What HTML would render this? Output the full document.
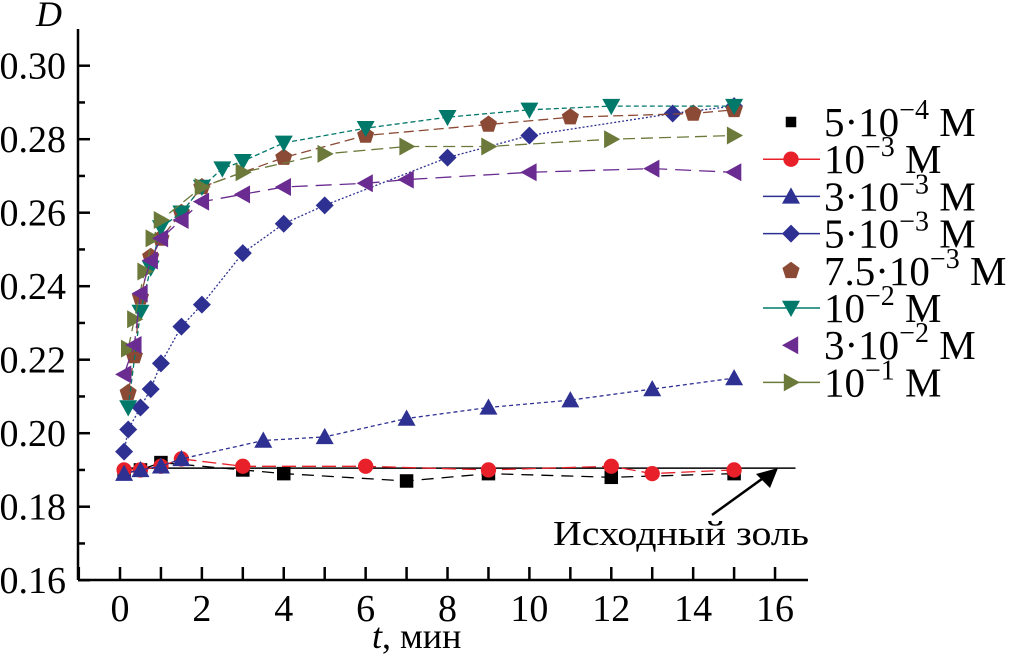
<!DOCTYPE html>
<html><head><meta charset="utf-8">
<style>
html,body{margin:0;padding:0;background:#fff;}
svg{display:block;}
svg text{font-family:"Liberation Serif","Times New Roman","DejaVu Serif",serif;}
</style></head>
<body>
<svg id="chart" width="1010" height="659" viewBox="0 0 1010 659">
  <g id="axes"></g>
  <g id="series"></g>
  <g id="legend"></g>
  <text x="36" y="26" font-size="36" font-style="italic" font-family="Liberation Serif, serif">D</text>
  <text x="372" y="648" font-size="36" font-family="Liberation Serif, serif"><tspan font-style="italic">t</tspan>, мин</text>
  <text x="553" y="545" font-size="35" font-family="Liberation Serif, serif" textLength="256" lengthAdjust="spacingAndGlyphs">Исходный золь</text>
  <line x1="712" y1="515" x2="766" y2="476" stroke="#000" stroke-width="2.5"/>
  <polygon points="778,468 770,488 756,474" fill="#000"/>
</svg>
<script>
const xTicks = [0,2,4,6,8,10,12,14,16];
const yTicks = [0.16,0.18,0.20,0.22,0.24,0.26,0.28,0.30];
const yTickLabels = ["0.16","0.18","0.20","0.22","0.24","0.26","0.28","0.30"];
const baselineD = 0.1905;

const t1 = [0.1,0.5,1,3,4,7,9,12,15];
const d1 = [0.189,0.190,0.192,0.190,0.189,0.187,0.189,0.188,0.189];
const t2 = [0.1,0.5,1,1.5,3,6,9,12,13,15];
const d2 = [0.190,0.190,0.191,0.193,0.191,0.191,0.190,0.191,0.189,0.190];
const t3 = [0.1,0.5,1,1.5,3.5,5,7,9,11,13,15];
const d3 = [0.189,0.190,0.191,0.193,0.198,0.199,0.204,0.207,0.209,0.212,0.215];
const t4 = [0.1,0.2,0.5,0.75,1,1.5,2,3,4,5,8,10,13.5,15];
const d4 = [0.195,0.201,0.207,0.212,0.219,0.229,0.235,0.249,0.257,0.262,0.275,0.281,0.287,0.289];
const t5 = [0.2,0.35,0.5,0.75,1,1.5,2,4,6,9,11,14,15];
const d5 = [0.211,0.221,0.237,0.248,0.253,0.260,0.267,0.275,0.281,0.284,0.286,0.287,0.288];
const t6 = [0.2,0.5,0.75,1,1.5,2,2.5,3,4,6,8,10,12,15];
const d6 = [0.207,0.233,0.245,0.256,0.260,0.267,0.272,0.274,0.279,0.283,0.286,0.288,0.289,0.289];
const t7 = [0.1,0.35,0.5,0.75,1,1.5,2,3,4,6,7,10,13,15];
const d7 = [0.216,0.224,0.238,0.247,0.253,0.258,0.263,0.265,0.267,0.268,0.269,0.271,0.272,0.271];
const t8 = [0.2,0.35,0.6,0.8,1,2,3,5,7,9,12,15];
const d8 = [0.223,0.231,0.244,0.253,0.258,0.267,0.271,0.276,0.278,0.278,0.280,0.281];

const NS="http://www.w3.org/2000/svg";
const X0=120, XS=40.94, Y0=65.7, YS=3675;
function sx(t){return X0+t*XS;}
function sy(d){return Y0+(0.30-d)*YS;}
function mk(tag,attrs,parent){const e=document.createElementNS(NS,tag);for(const k in attrs)e.setAttribute(k,attrs[k]);parent.appendChild(e);return e;}

const axes=document.getElementById('axes');
const L=78,R=808,B=580,T=29;
let a=mk('line',{x1:L,y1:T,x2:L,y2:B,stroke:'#000','stroke-width':2.5},axes);


a=mk('line',{x1:L,y1:B,x2:R,y2:B,stroke:'#000','stroke-width':2.5},axes);


for(let i=0;i<yTicks.length;i++){
  const y=sy(yTicks[i]);
  let tk=mk('line',{x1:L,y1:y,x2:L+12,y2:y,stroke:'#000','stroke-width':2.5},axes);
  
  
  const ym=sy(yTicks[i]+0.01);
  if(ym>T){let m=mk('line',{x1:L,y1:ym,x2:L+7,y2:ym,stroke:'#000','stroke-width':2.5},axes);
  
  }
  let lb=mk('text',{x:L-12,y:y+13,'font-size':38,'text-anchor':'end','font-family':'Liberation Serif, serif'},axes);
  lb.textContent=yTickLabels[i];
  
  
}
for(let i=0;i<xTicks.length;i++){
  const x=sx(xTicks[i]);
  let tk=mk('line',{x1:x,y1:B,x2:x,y2:B-13,stroke:'#000','stroke-width':2.5},axes);
  
  
  if(xTicks[i]<16){const xm=sx(xTicks[i]+1);
  let m=mk('line',{x1:xm,y1:B,x2:xm,y2:B-13,stroke:'#000','stroke-width':2.5},axes);
  
  }
  if(i===0){let m=mk('line',{x1:sx(-1),y1:B,x2:sx(-1),y2:B-13,stroke:'#000','stroke-width':2},axes);
  
  }
  let lb=mk('text',{x:x,y:B+41,'font-size':38,'text-anchor':'middle','font-family':'Liberation Serif, serif'},axes);
  lb.textContent=String(xTicks[i]);
  
  
}

function marker(g,shape,x,y,color,s){
  s=s||9;let e;
  if(shape==='square')e=mk('rect',{x:x-s*0.75,y:y-s*0.75,width:s*1.5,height:s*1.5,fill:color},g);
  else if(shape==='circle')e=mk('circle',{cx:x,cy:y,r:s*0.85,fill:color},g);
  else if(shape==='up')e=mk('polygon',{points:`${x},${y-s} ${x+s},${y+s*0.8} ${x-s},${y+s*0.8}`,fill:color},g);
  else if(shape==='down')e=mk('polygon',{points:`${x},${y+s} ${x+s},${y-s*0.8} ${x-s},${y-s*0.8}`,fill:color},g);
  else if(shape==='left')e=mk('polygon',{points:`${x-s},${y} ${x+s*0.8},${y-s} ${x+s*0.8},${y+s}`,fill:color},g);
  else if(shape==='right')e=mk('polygon',{points:`${x+s},${y} ${x-s*0.8},${y-s} ${x-s*0.8},${y+s}`,fill:color},g);
  else if(shape==='diamond')e=mk('polygon',{points:`${x},${y-s} ${x+s},${y} ${x},${y+s} ${x-s},${y}`,fill:color},g);
  else if(shape==='pentagon'){let p=[];for(let k=0;k<5;k++){const an=-Math.PI/2+k*2*Math.PI/5;p.push((x+s*Math.cos(an)).toFixed(1)+','+(y+s*Math.sin(an)).toFixed(1));}
    e=mk('polygon',{points:p.join(' '),fill:color},g);}
  return e;
}

let bl=mk('line',{x1:sx(0),y1:sy(baselineD),x2:sx(16.5),y2:sy(baselineD),stroke:'#000','stroke-width':1.5},axes);



const sg=document.getElementById('series');
function drawSeries(ts,ds,shape,color,dash,name){
  const g=mk('g',{},sg);
  
  
  const pts=ts.map((t,i)=>sx(t).toFixed(1)+','+sy(ds[i]).toFixed(1)).join(' ');
  const pl=mk('polyline',{points:pts,fill:'none',stroke:color,'stroke-width':1.3,'stroke-dasharray':dash},g);
  
  
  ts.forEach((t,i)=>{const m=marker(g,shape,sx(t),sy(ds[i]),color);
    
    });
}
drawSeries(t1,d1,'square','#000','12,8','series-5e-4');
drawSeries(t2,d2,'circle','#e8202a','14,6','series-1e-3');
drawSeries(t3,d3,'up','#2e3192','4,3','series-3e-3');
drawSeries(t4,d4,'diamond','#2e3192','2,2','series-5e-3');
drawSeries(t5,d5,'pentagon','#8b4a35','10,5','series-7.5e-3');
drawSeries(t6,d6,'down','#00796b','5,3','series-1e-2');
drawSeries(t8,d8,'right','#6b7a3a','12,6','series-1e-1');
drawSeries(t7,d7,'left','#6a2c91','16,8','series-3e-2');

const lg=document.getElementById('legend');
const legendLabels=[["5·10","−4"],["10","−3"],["3·10","−3"],["5·10","−3"],["7.5·10","−3"],["10","−2"],["3·10","−2"],["10","−1"]];
const legendShapes=['square','circle','up','diamond','pentagon','down','left','right'];
const legendColors=['#000','#e8202a','#2e3192','#2e3192','#8b4a35','#00796b','#6a2c91','#6b7a3a'];
const legendLine=[false,true,true,true,false,true,false,true];
legendLabels.forEach((lab,i)=>{
  const y=122+i*37.2;
  const g=mk('g',{},lg);
  
  
  if(legendLine[i]){const l=mk('line',{x1:763,y1:y,x2:820,y2:y,stroke:legendColors[i],'stroke-width':1.5},g);
    
    }
  const m=marker(g,legendShapes[i],791,y,legendColors[i],legendShapes[i]==='square'?7:9);
  
  
  const tx=mk('text',{x:824,y:y+14,'font-size':41,'font-family':'Liberation Serif, serif'},g);
  
  
  const a1=mk('tspan',{},tx);a1.textContent=lab[0];
  const a2=mk('tspan',{dy:-17,'font-size':28},tx);a2.textContent=lab[1];
  const a3=mk('tspan',{dy:17},tx);a3.textContent=' M';
});
</script>
</body></html>
